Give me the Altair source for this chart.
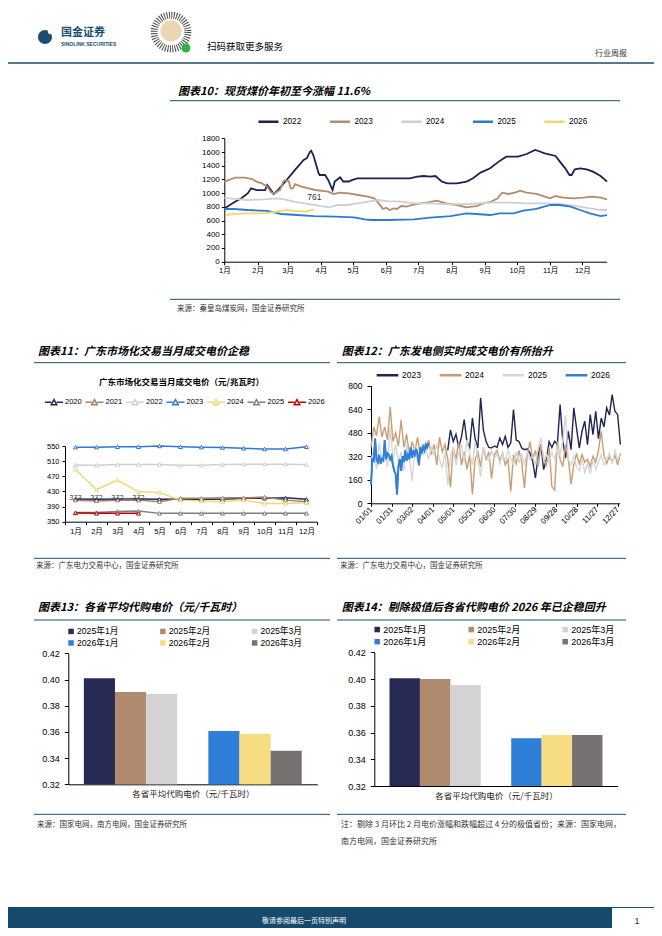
import json
import math
import altair as alt
import pandas as pd

W, H = 646, 920
M = 8
CJK = "Noto Sans CJK SC"
NUM = "Liberation Sans"
MIX = "Liberation Sans, Noto Sans CJK SC"
TEAL = "#1d4e6b"


def X(p):
    return p - M


def Y(p):
    return p - M

# ------------------------------------------------------------------ data
# Chart 10: spot coal price (day of year -> price)
C10_YEARS = ["2022", "2023", "2024", "2025", "2026"]
C10_COLORS = ["#1e2150", "#b48c6c", "#cfcfcf", "#2b7bd6", "#f5d66e"]
C10_MONTH_DAYS = [0, 31, 59, 90, 120, 151, 181, 212, 243, 273, 304, 334]
C10_MONTH_LABELS = ["1月", "2月", "3月", "4月", "5月", "6月", "7月", "8月", "9月", "10月", "11月", "12月"]
C10_Y_TICKS = [0, 200, 400, 600, 800, 1000, 1200, 1400, 1600, 1800]

c10_2022_day = [0, 10, 16, 22, 25, 30, 38, 40, 42, 46, 50, 57, 66, 74, 77, 80, 81, 83, 88, 89,
                94, 97, 101, 103, 108, 111, 116, 119, 124, 173, 180, 186, 192, 197, 203, 208, 217, 226, 232, 239,
                248, 256, 263, 274, 282, 290, 293, 299, 309, 313, 318, 322, 324, 327, 332, 338, 344, 351, 357]
c10_2022_val = [775, 875, 925, 1000, 1070, 1045, 1045, 1120, 1080, 990, 1045, 1170, 1340, 1485, 1510, 1605, 1620, 1555, 1290, 1265,
                1265, 1190, 1045, 1170, 1230, 1170, 1170, 1190, 1215, 1216, 1240, 1250, 1240, 1250, 1168, 1143, 1143, 1168, 1216, 1300,
                1362, 1460, 1532, 1532, 1571, 1630, 1615, 1581, 1542, 1460, 1362, 1265, 1265, 1348, 1362, 1348, 1314, 1250, 1168]
c10_2023_day = [0, 4, 10, 19, 26, 30, 35, 40, 44, 47, 52, 55, 57, 60, 62, 64, 66, 72, 85, 97,
                102, 108, 116, 125, 134, 140, 144, 148, 151, 154, 158, 161, 165, 170, 175, 183, 190, 198, 207, 217,
                226, 235, 242, 249, 255, 259, 265, 271, 276, 282, 291, 299, 304, 309, 316, 326, 335, 343, 351, 357]
c10_2023_val = [1165, 1190, 1226, 1226, 1206, 1168, 1143, 1095, 1007, 997, 1046, 1168, 1190, 1177, 1070, 1070, 1130, 1095, 1046, 1022,
                988, 1007, 997, 973, 949, 924, 851, 769, 788, 754, 778, 769, 812, 803, 827, 851, 866, 890, 851, 827,
                793, 812, 851, 876, 924, 1007, 988, 1007, 1036, 1007, 988, 949, 924, 958, 934, 924, 934, 949, 934, 910]
c10_2024_day = [0, 9, 22, 37, 50, 56, 65, 78, 90, 98, 106, 115, 124, 137, 143, 152, 165, 177, 192, 211,
                229, 248, 267, 282, 298, 313, 329, 341, 351, 357]
c10_2024_val = [934, 915, 900, 910, 924, 910, 876, 842, 812, 793, 827, 827, 851, 885, 900, 885, 876, 851, 851, 837,
                842, 861, 861, 851, 851, 842, 812, 778, 754, 754]
c10_2025_day = [0, 9, 22, 40, 53, 68, 84, 103, 121, 131, 137, 152, 177, 192, 211, 226, 235, 248, 257, 270,
                279, 291, 304, 313, 323, 332, 341, 351, 357]
c10_2025_val = [769, 769, 754, 740, 696, 681, 666, 657, 647, 618, 608, 608, 618, 642, 666, 705, 696, 681, 705, 705,
                744, 769, 827, 827, 803, 754, 705, 666, 681]
c10_2026_day = [2, 9, 22, 37, 47, 53, 58, 65, 75, 81, 84]
c10_2026_val = [681, 696, 705, 705, 725, 740, 754, 740, 730, 754, 761]

# Chart 11: Guangdong monthly traded price
C11_MONTHS = ["1月", "2月", "3月", "4月", "5月", "6月", "7月", "8月", "9月", "10月", "11月", "12月"]
C11_YEARS = ["2020", "2021", "2022", "2023", "2024", "2025", "2026"]
C11_COLORS = ["#1f2a5c", "#a3836b", "#d0d0d0", "#2f78d1", "#f0d878", "#7f7f7f", "#c00000"]
C11_Y_TICKS = [350, 390, 430, 470, 510, 550]
c11_2020 = [410, 409, 410, 410, 409, 410, 409, 409, 412, 412, 413, 409]
c11_2021 = [407, 405, 407, 407, 403, 412, 412, 413, 413, 415, 407, 403]
c11_2022 = [500, 499, 501, 501, 501, 499, 499, 501, 502, 502, 502, 501]
c11_2023 = [547, 547, 548, 548, 550, 548, 547, 546, 544, 542, 542, 548]
c11_2024 = [488, 435, 460, 429, 427, 407, 405, 403, 407, 398, 398, 400]
c11_2025 = [374, 374, 377, 378, 372, 372, 372, 372, 372, 372, 372, 372]
c11_2026 = [373, 372, 372, 372]

# Chart 12: Guangdong real-time price (day index)
C12_YEARS = ["2023", "2024", "2025", "2026"]
C12_COLORS = ["#1f2457", "#c89d74", "#d6d6d6", "#2e80d8"]
C12_TICK_DAYS = [0, 30, 60, 90, 120, 150, 180, 210, 240, 270, 300, 330, 360]
C12_TICK_LABELS = ["01/01", "01/31", "03/02", "04/01", "05/01", "05/31", "06/30", "07/30",
                   "08/29", "09/28", "10/28", "11/27", "12/27"]
C12_Y_TICKS = [0, 160, 320, 480, 640, 800]
c12_2023_start, c12_2023_step = 112, 4
c12_2023 = [360, 500, 420, 470, 380, 450, 570, 420, 380, 580,
            440, 376, 717, 500, 420, 380, 376, 390, 380, 444,
            400, 456, 380, 410, 637, 430, 420, 376, 365, 370,
            342, 286, 172, 330, 400, 229, 300, 420, 380, 422,
            400, 671, 420, 308, 490, 365, 649, 512, 376, 490,
            558, 399, 603, 467, 626, 440, 580, 520, 649, 600,
            739, 626, 603, 400]
c12_2024_start, c12_2024_step = 0, 4
c12_2024 = [380, 520, 460, 590, 450, 520, 430, 657, 420, 480,
            390, 566, 380, 470, 330, 420, 350, 450, 320, 400,
            370, 430, 330, 400, 260, 450, 350, 400, 300, 110,
            380, 300, 420, 260, 350, 230, 330, 60, 300, 350,
            250, 380, 300, 350, 170, 330, 360, 290, 340, 260,
            300, 80, 330, 270, 360, 280, 105, 330, 420, 300,
            360, 250, 400, 310, 260, 380, 115, 90, 420, 300,
            250, 400, 300, 130, 260, 340, 270, 330, 280, 300,
            250, 320, 280, 360, 490, 330, 270, 320, 280, 330,
            260, 340]
c12_2025_start, c12_2025_step = 0, 4
c12_2025 = [300, 360, 230, 410, 290, 360, 250, 520, 300, 400,
            280, 350, 220, 400, 310, 150, 380, 290, 400, 330,
            370, 300, 380, 330, 400, 300, 240, 350, 125, 320,
            380, 260, 340, 400, 280, 430, 340, 260, 420, 300,
            181, 380, 320, 290, 360, 300, 340, 270, 330, 290,
            360, 300, 260, 350, 280, 330, 270, 350, 300, 320,
            260, 380, 444, 290, 330, 280, 350, 300, 380, 330,
            430, 600, 300, 260, 320, 250, 220, 300, 210, 270,
            200, 300, 230, 280, 330, 260, 300, 340, 270, 360,
            300, 330]
c12_2026_start, c12_2026_step = 0, 2
c12_2026 = [130, 300, 290, 440, 300, 280, 330, 270, 300, 290,
            430, 300, 340, 330, 300, 320, 260, 220, 200, 60,
            250, 300, 220, 320, 280, 360, 290, 330, 300, 380,
            310, 360, 330, 370, 330, 260, 380, 340, 390, 360,
            400, 380, 410]

# Charts 13 / 14: provincial agency purchase price
BAR_SERIES = ["2025年1月", "2025年2月", "2025年3月", "2026年1月", "2026年2月", "2026年3月"]
BAR_COLORS = ["#262a55", "#b08a6f", "#d3d3d3", "#2f7fd9", "#f6dc82", "#777272"]
BAR_SLOTS = BAR_SERIES[:3] + [" "] + BAR_SERIES[3:]
BAR_Y_TICKS = [0.32, 0.34, 0.36, 0.38, 0.40, 0.42]
c13_vals = [0.401, 0.3905, 0.389, 0.3607, 0.3586, 0.3457]
c14_vals = [0.4006, 0.4000, 0.3955, 0.3557, 0.3581, 0.3581]
BAR_X_TITLE = "各省平均代购电价（元/千瓦时）"

# ------------------------------------------------------------------ helpers
ONE = pd.DataFrame({"k": [0]})


def text_at(s, x, y, size, color="#000", font=CJK, weight="normal", style="normal",
            align="left", baseline="middle"):
    return alt.Chart(ONE).mark_text(
        text=s, fontSize=size, color=color, font=font, fontWeight=weight,
        fontStyle=style, align=align, baseline=baseline
    ).encode(x=alt.value(X(x)), y=alt.value(Y(y)))


def rule_at(x1, x2, y, color=TEAL, width=1.0):
    return alt.Chart(ONE).mark_rule(color=color, strokeWidth=width).encode(
        x=alt.value(X(x1)), x2=alt.value(X(x2)), y=alt.value(Y(y)))


def rect_at(x1, x2, y1, y2, color):
    return alt.Chart(ONE).mark_rect(color=color).encode(
        x=alt.value(X(x1)), x2=alt.value(X(x2)), y=alt.value(Y(y1)), y2=alt.value(Y(y2)))


def dot_at(x, y, r, fill):
    return alt.Chart(ONE).mark_point(
        shape="circle", filled=True, size=math.pi * r * r, color=fill, opacity=1, strokeWidth=0
    ).encode(x=alt.value(X(x)), y=alt.value(Y(y)))


def ring_at(x, y, r, stroke, width, dash):
    return alt.Chart(ONE).mark_point(
        shape="circle", filled=False, size=math.pi * r * r, stroke=stroke, strokeWidth=width,
        strokeDash=dash, opacity=1
    ).encode(x=alt.value(X(x)), y=alt.value(Y(y)))


def xaxis(y_page, **kw):
    base = dict(orient="bottom", offset=Y(y_page) - H, grid=False, title=None,
                domainColor="#000", tickColor="#000", labelColor="#000", labelFont=MIX,
                labelFlush=False, labelOverlap=False)
    base.update(kw)
    return alt.Axis(**base)


def yaxis(x_page, **kw):
    base = dict(orient="left", offset=-X(x_page), grid=False, title=None,
                domainColor="#000", tickColor="#000", labelColor="#000", labelFont=NUM,
                labelOverlap=False)
    base.update(kw)
    return alt.Axis(**base)


def label_expr(labels, values):
    return "%s[indexof(%s, datum.value)]" % (json.dumps(labels, ensure_ascii=False), json.dumps(values))


# ------------------------------------------------------------------ chart 10
rows = []
for yr, ds, vs in zip(C10_YEARS,
                      [c10_2022_day, c10_2023_day, c10_2024_day, c10_2025_day, c10_2026_day],
                      [c10_2022_val, c10_2023_val, c10_2024_val, c10_2025_val, c10_2026_val]):
    rows += [{"year": yr, "day": d, "price": v} for d, v in zip(ds, vs)]
c10_df = pd.DataFrame(rows)

x10 = alt.Scale(domain=[0, 356.7], range=[X(224.3), X(606.7)], nice=False, zero=False)
y10 = alt.Scale(domain=[0, 1800], range=[Y(261.7), Y(138.3)], nice=False, zero=False)
ax10x = xaxis(261.7, values=C10_MONTH_DAYS, labelExpr=label_expr(C10_MONTH_LABELS, C10_MONTH_DAYS),
              labelFontSize=7.5, tickSize=3, labelPadding=2)
ax10y = yaxis(224.3, values=C10_Y_TICKS, format="d", labelFontSize=8, tickSize=3, labelPadding=2)

c10_lines = alt.Chart(c10_df).mark_line(strokeWidth=1.8).encode(
    x=alt.X("day:Q", scale=x10, axis=ax10x),
    y=alt.Y("price:Q", scale=y10, axis=ax10y),
    color=alt.Color("year:N", scale=alt.Scale(domain=C10_YEARS, range=C10_COLORS),
                    legend=alt.Legend(orient="none", legendX=X(257), legendY=Y(120) - 10,
                                      direction="horizontal", title=None, symbolType="stroke",
                                      symbolSize=400, symbolStrokeWidth=2.5, labelFont=NUM,
                                      labelFontSize=8.2, labelColor="#000", labelOffset=3,
                                      columnPadding=22.5, padding=0)),
    order=alt.Order("day:Q"),
)
c10_lab_df = pd.DataFrame({"day": [c10_2026_day[-1]], "price": [c10_2026_val[-1]],
                           "lab": [str(c10_2026_val[-1])]})
c10_label = alt.Chart(c10_lab_df).mark_text(dy=-13, fontSize=8.5, font=NUM, color="#333").encode(
    x=alt.X("day:Q", scale=x10, axis=ax10x),
    y=alt.Y("price:Q", scale=y10, axis=ax10y),
    text="lab:N",
)
chart10 = alt.layer(c10_lines, c10_label)

# ------------------------------------------------------------------ chart 11
rows = []
for yr, vs in zip(C11_YEARS, [c11_2020, c11_2021, c11_2022, c11_2023, c11_2024, c11_2025, c11_2026]):
    rows += [{"year": yr, "month": C11_MONTHS[i], "price": v} for i, v in enumerate(vs)]
c11_df = pd.DataFrame(rows)

x11 = alt.Scale(type="band", domain=C11_MONTHS, range=[X(65), X(317)], paddingInner=0, paddingOuter=0)
y11 = alt.Scale(domain=[350, 550], range=[Y(521.7), Y(446)], nice=False, zero=False)
ax11x = xaxis(521.7, tickBand="extent", labelAngle=0, labelFontSize=7.5, tickSize=3, labelPadding=3)
ax11y = yaxis(65, values=C11_Y_TICKS, labelFontSize=7.5, tickSize=3, labelPadding=3)
C11_SYMBOL = "M-1,0L-0.3,0M0.3,0L1,0M-0.3,0.27L0,-0.3L0.3,0.27Z"

c11_lines = alt.Chart(c11_df).mark_line(strokeWidth=1.5).encode(
    x=alt.X("month:N", scale=x11, sort=C11_MONTHS, axis=ax11x),
    y=alt.Y("price:Q", scale=y11, axis=ax11y),
    color=alt.Color("year:N", scale=alt.Scale(domain=C11_YEARS, range=C11_COLORS),
                    legend=alt.Legend(orient="none", legendX=X(44), legendY=Y(401) - 9,
                                      direction="horizontal", title=None, symbolType=C11_SYMBOL,
                                      symbolSize=324, symbolStrokeWidth=1.5,
                                      symbolFillColor="#ffffff", labelFont=NUM,
                                      labelFontSize=7.5, labelColor="#000", labelOffset=1,
                                      columnPadding=0.5, padding=0)),
)
c11_points = alt.Chart(c11_df).mark_point(shape="triangle-up", size=16, filled=False, fill="#ffffff",
                                          strokeWidth=1, opacity=1).encode(
    x=alt.X("month:N", scale=x11, sort=C11_MONTHS, axis=ax11x),
    y=alt.Y("price:Q", scale=y11, axis=ax11y),
    stroke=alt.Stroke("year:N", scale=alt.Scale(domain=C11_YEARS, range=C11_COLORS), legend=None),
)
c11_lab_df = pd.DataFrame({"month": C11_MONTHS[:len(c11_2026)], "price": c11_2026,
                           "lab": [str(v) for v in c11_2026]})
c11_labels = alt.Chart(c11_lab_df).mark_text(dy=-15, fontSize=7.5, font=NUM, color="#404040").encode(
    x=alt.X("month:N", scale=x11, sort=C11_MONTHS, axis=ax11x),
    y=alt.Y("price:Q", scale=y11, axis=ax11y),
    text="lab:N",
)
chart11 = alt.layer(c11_lines, c11_points, c11_labels)

# ------------------------------------------------------------------ chart 12
rows = []
for yr, start, step, vs in [("2023", c12_2023_start, c12_2023_step, c12_2023),
                            ("2024", c12_2024_start, c12_2024_step, c12_2024),
                            ("2025", c12_2025_start, c12_2025_step, c12_2025),
                            ("2026", c12_2026_start, c12_2026_step, c12_2026)]:
    rows += [{"year": yr, "day": start + step * i, "price": v} for i, v in enumerate(vs)]
c12_df = pd.DataFrame(rows)

x12 = alt.Scale(domain=[0, 363], range=[X(371), X(619.7)], nice=False, zero=False)
y12 = alt.Scale(domain=[0, 800], range=[Y(503.3), Y(385.7)], nice=False, zero=False)
c12_color = alt.Scale(domain=C12_YEARS, range=C12_COLORS)
ax12x = xaxis(503.3, values=C12_TICK_DAYS, labelExpr=label_expr(C12_TICK_LABELS, C12_TICK_DAYS),
              labelAngle=315, labelAlign="right", labelBaseline="middle",
              labelFontSize=8, tickSize=3, labelPadding=2)
ax12y = yaxis(371, values=C12_Y_TICKS, format="d", labelFontSize=8.5, tickSize=4, labelPadding=5)

c12_lines = alt.Chart(c12_df).mark_line(strokeWidth=1.4).encode(
    x=alt.X("day:Q", scale=x12, axis=ax12x),
    y=alt.Y("price:Q", scale=y12, axis=ax12y),
    color=alt.Color("year:N", scale=c12_color,
                    legend=alt.Legend(orient="none", legendX=X(375), legendY=Y(373.3) - 10.8,
                                      direction="horizontal", title=None, symbolType="stroke",
                                      symbolSize=470, symbolStrokeWidth=2.5, labelFont=NUM,
                                      labelFontSize=8.5, labelColor="#000", labelOffset=2,
                                      columnPadding=13, padding=0)),
    order=alt.Order("day:Q"),
)
c12_top = alt.Chart(c12_df[c12_df["year"] == "2026"]).mark_line(strokeWidth=2).encode(
    x=alt.X("day:Q", scale=x12, axis=ax12x),
    y=alt.Y("price:Q", scale=y12, axis=ax12y),
    color=alt.Color("year:N", scale=c12_color, legend=None),
    order=alt.Order("day:Q"),
)
chart12 = alt.layer(c12_lines, c12_top)


# ------------------------------------------------------------------ charts 13 / 14
def bar_chart(vals, x0, x1, ybot, ytop, leg_x, leg_y, leg_font, col_pad, row_pad, lab_size):
    df = pd.DataFrame({"series": BAR_SERIES, "v": vals})
    ysc = alt.Scale(domain=[0.32, 0.42], range=[Y(ybot), Y(ytop)], nice=False, zero=False, clamp=True)
    return alt.Chart(df).mark_bar().encode(
        x=alt.X("series:N", sort=BAR_SLOTS,
                scale=alt.Scale(type="band", domain=BAR_SLOTS, range=[X(x0), X(x1)],
                                paddingInner=0, paddingOuter=0.5),
                axis=xaxis(ybot, ticks=False, labels=False, title=BAR_X_TITLE, titleFont=CJK,
                           titleFontSize=8.5, titleFontWeight="normal", titleColor="#222",
                           titlePadding=5)),
        y=alt.Y("v:Q", scale=ysc, axis=yaxis(x0, values=BAR_Y_TICKS, format=".2f",
                                              labelFontSize=lab_size, tickSize=4, labelPadding=5)),
        y2=alt.datum(0.32),
        color=alt.Color("series:N", scale=alt.Scale(domain=BAR_SERIES, range=BAR_COLORS),
                        legend=alt.Legend(orient="none", legendX=X(leg_x), legendY=Y(leg_y),
                                          direction="horizontal", columns=3, title=None,
                                          symbolType="square", symbolSize=30, symbolStrokeWidth=0,
                                          labelFont=MIX, labelFontSize=leg_font, labelColor="#000",
                                          labelOffset=1.5, columnPadding=col_pad, rowPadding=row_pad,
                                          padding=0)),
    )


chart13 = bar_chart(c13_vals, 68.3, 317.3, 784.3, 653.3, 66.7, 626.6, 8.7, 39.8, 2, 9)
chart14 = bar_chart(c14_vals, 374.3, 617.7, 786.0, 652.3, 372.7, 624.8, 9, 40, 2.4, 9)

# ------------------------------------------------------------------ decorations
TITLE = dict(weight="bold", style="italic")
deco = [
    # header
    dot_at(45, 37, 8, "#1b4f72"),
    dot_at(50.5, 31.5, 3, "#ffffff"),
    text_at("国金证券", 61, 33, 11, color="#1b4f72", weight="bold"),
    text_at("SINOLINK SECURITIES", 61, 44, 5, color="#1b4f72", font=NUM, weight="bold"),
    ring_at(171, 32, 19, "#4a4a4a", 7, [1, 1.4]),
    dot_at(171, 31, 12, "#ead6b2"),
    dot_at(186, 48, 5, "#2db24a"),
    text_at("扫码获取更多服务", 207, 47, 9.5),
    text_at("行业周报", 627, 54, 8, color="#333", align="right"),
    rule_at(M, W + M, 63, width=1.5),
    # chart 10
    text_at("图表10：现货煤价年初至今涨幅 11.6%", 178, 92, 11, **TITLE),
    rule_at(170, 620, 100.7),
    rule_at(170, 620, 299.3),
    text_at("来源：秦皇岛煤炭网，国金证券研究所", 177, 309, 7.5, color="#333"),
    # chart 11
    text_at("图表11：广东市场化交易当月成交电价企稳", 38, 352, 11, **TITLE),
    rule_at(34, 330, 362.7),
    text_at("广东市场化交易当月成交电价（元/兆瓦时）", 181.5, 381.7, 8.5, weight="bold", align="center"),
    rule_at(34, 330, 558.3),
    text_at("来源：广东电力交易中心，国金证券研究所", 36, 566, 7.5, color="#333"),
    # chart 12
    text_at("图表12：广东发电侧实时成交电价有所抬升", 341.7, 351.7, 11, **TITLE),
    rule_at(337, 626, 362.7),
    rule_at(337, 626, 558.3),
    text_at("来源：广东电力交易中心，国金证券研究所", 340, 566, 7.5, color="#333"),
    # chart 13
    text_at("图表13：各省平均代购电价（元/千瓦时）", 38, 608, 11, **TITLE),
    rule_at(34, 330, 620),
    rule_at(34, 330, 814.3),
    text_at("来源：国家电网，南方电网，国金证券研究所", 37, 824.5, 7.5, color="#333"),
    # chart 14
    text_at("图表14：剔除极值后各省代购电价 2026 年已企稳回升", 341.7, 608, 11, **TITLE),
    rule_at(337, 626, 620),
    rule_at(337, 626, 814.3),
    text_at("注：剔除 3 月环比 2 月电价涨幅和跌幅超过 4 分的极值省份；来源：国家电网，", 341, 825, 8, color="#333"),
    text_at("南方电网，国金证券研究所", 341, 842, 8, color="#333"),
    # footer
    rect_at(M, 612, 907, 936, "#154a6c"),
    rule_at(612, W + M, 907.5, width=1),
    text_at("敬请参阅最后一页特别声明", 304, 921, 7, color="#ffffff", align="center"),
    text_at("1", 637, 921, 9, color="#333", font=NUM, align="center"),
]

chart = alt.layer(chart10, chart11, chart12, chart13, chart14, *deco).properties(
    width=W, height=H, autosize=alt.AutoSizeParams(type="none"), padding=0
).resolve_scale(
    x="independent", y="independent", color="independent", stroke="independent"
).configure_view(strokeOpacity=0)

chart.save("out.html", embed_options={"renderer": "svg", "actions": False})
